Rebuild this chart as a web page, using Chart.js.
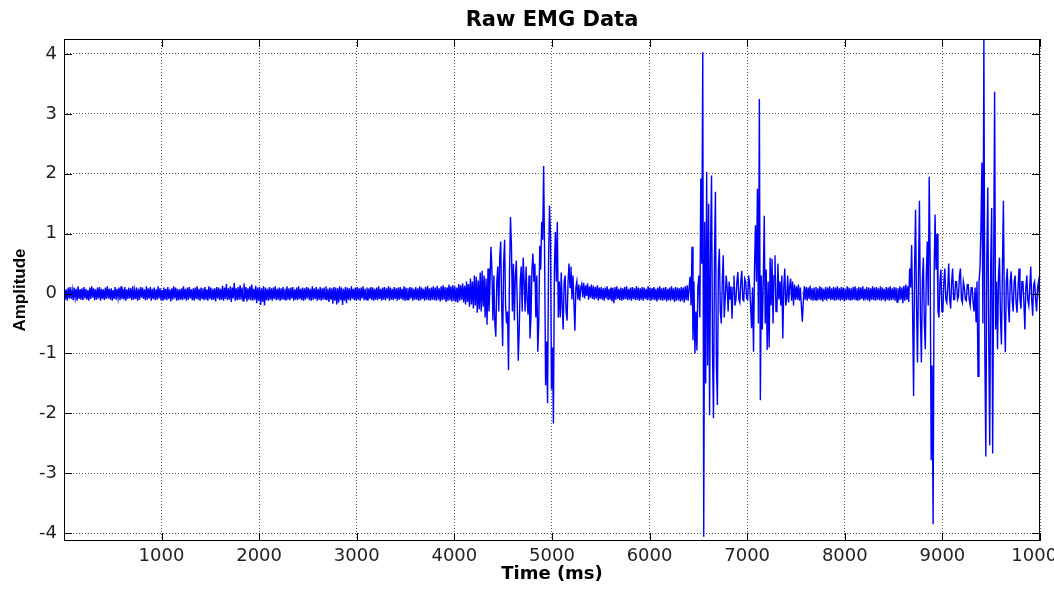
<!DOCTYPE html>
<html>
<head>
<meta charset="utf-8">
<title>Raw EMG Data</title>
<script src="https://cdn.jsdelivr.net/npm/chart.js@4.4.1/dist/chart.umd.min.js"></script>
<style>
  html, body { margin: 0; padding: 0; background: #ffffff; overflow: hidden; }
</style>
</head>
<body>
<canvas id="emg" width="1054" height="590"></canvas>
<script>
// samples every 10 ms
const sampleStepMs = 10;
const segmentStartMs = [5, 4005, 5305, 6405, 7505, 8665];

const restA = [
  .09,-.1,.07,-.12,.1,-.08,.11,-.09,.06,-.11,.1,-.07,.08,-.12,.12,-.09,.07,-.1,.09,-.11,
  .11,-.08,.08,-.1,.06,-.12,.1,-.09,.12,-.07,.09,-.11,.07,-.1,.1,-.08,.11,-.12,.08,-.09,
  .07,-.11,.1,-.09,.12,-.08,.08,-.1,.09,-.12,.06,-.09,.11,-.1,.08,-.07,.1,-.11,.12,-.09,
  .08,-.1,.11,-.12,.07,-.09,.1,-.08,.09,-.11,.12,-.1,.06,-.09,.1,-.12,.08,-.1,.11,-.07,
  .1,-.09,.07,-.11,.12,-.1,.09,-.08,.11,-.12,.08,-.09,.1,-.11,.07,-.1,.12,-.08,.09,-.11,
  .06,-.12,.1,-.1,.08,-.11,.11,-.09,.07,-.13,.09,-.1,.12,-.08,.1,-.12,.08,-.11,.07,-.1,
  .09,-.11,.12,-.09,.08,-.12,.1,-.1,.11,-.08,.07,-.11,.09,-.12,.1,-.09,.12,-.1,.08,-.12,
  .1,-.08,.09,-.11,.11,-.1,.07,-.12,.12,-.09,.1,-.11,.08,-.1,.09,-.13,.11,-.08,.1,-.11,
  .08,-.1,.13,-.12,.1,-.09,.16,-.11,.09,-.1,.12,-.14,.1,-.08,.18,-.12,.09,-.11,.11,-.1,
  .14,-.1,.1,-.12,.17,-.09,.11,-.13,.09,-.1,.12,-.11,.15,-.12,.08,-.1,.13,-.16,.1,-.12,
  .11,-.19,.09,-.14,.12,-.2,.1,-.11,.08,-.12,.11,-.1,.09,-.12,.1,-.09,.12,-.11,.08,-.1,
  .1,-.12,.09,-.1,.11,-.09,.08,-.12,.12,-.1,.09,-.11,.1,-.08,.11,-.12,.07,-.1,.1,-.11,
  .12,-.09,.08,-.11,.1,-.12,.09,-.1,.11,-.08,.1,-.11,.08,-.12,.12,-.1,.09,-.09,.11,-.12,
  .08,-.1,.11,-.12,.09,-.1,.1,-.09,.12,-.11,.08,-.14,.1,-.1,.09,-.17,.11,-.12,.1,-.18,
  .09,-.15,.12,-.11,.1,-.19,.08,-.12,.11,-.16,.1,-.1,.09,-.12,.12,-.09,.08,-.11,.1,-.12,
  .11,-.1,.09,-.12,.1,-.08,.12,-.11,.08,-.1,.1,-.12,.09,-.09,.11,-.11,.1,-.12,.08,-.1,
  .1,-.11,.12,-.09,.08,-.12,.1,-.1,.11,-.11,.09,-.08,.12,-.12,.1,-.1,.08,-.11,.11,-.09,
  .09,-.12,.1,-.1,.11,-.09,.08,-.11,.12,-.12,.1,-.1,.09,-.11,.11,-.08,.1,-.12,.08,-.1,
  .11,-.1,.09,-.12,.12,-.11,.1,-.09,.08,-.12,.11,-.1,.13,-.11,.09,-.12,.1,-.1,.12,-.11,
  .1,-.12,.13,-.1,.09,-.13,.12,-.11,.14,-.1,.11,-.14,.1,-.12,.15,-.11,.12,-.13,.14,-.12
];
const burstA = [
  .12,-.14,.1,-.15,.16,-.12,.14,-.1,.17,-.15,
  .13,-.18,.2,-.14,.16,-.22,.25,-.18,.2,-.25,
  .3,-.2,.28,-.32,.22,-.26,.35,-.3,.38,-.22,
  .3,-.4,.25,-.52,.42,-.3,.15,.78,.4,-.45,
  .3,-.5,-.72,.2,.45,-.3,.6,.87,-.2,-.88,
  .5,.9,-.2,-.5,-.3,-1.28,.3,1.28,.8,-.3,
  .5,-.45,.3,.55,-.2,-1.12,-.6,.2,.45,-.3,
  .6,.2,-.3,.45,-.1,-.35,.3,-.75,-.4,.4,
  .67,.2,.5,-.4,.3,-.97,-.5,.8,.4,1.2,
  .9,2.13,.6,-1.53,-.8,-1.83,.5,1.47,1.0,-1.6,
  -.9,-2.17,.4,1.03,.2,1.2,-.4,.2,-.4,.35,
  -.2,-.6,.2,.3,-.3,-.45,.2,.5,.1,.45,
  -.1,.3,-.15,-.62,.1,.2,-.1,.15,-.12,.1
];
const restB = [
  .16,-.06,.18,-.08,.14,-.04,.17,-.1,.12,-.07,.15,-.09,.13,-.1,.11,-.08,.14,-.12,.1,-.09,
  .11,-.1,.09,-.12,.1,-.08,.12,-.11,.08,-.1,.1,-.13,.09,-.16,.11,-.1,.12,-.09,.08,-.11,
  .1,-.12,.09,-.1,.11,-.09,.12,-.11,.08,-.1,.1,-.12,.11,-.09,.09,-.11,.12,-.1,.1,-.12,
  .09,-.1,.11,-.12,.1,-.09,.08,-.11,.12,-.1,.1,-.12,.09,-.1,.11,-.11,.08,-.13,.1,-.1,
  .12,-.11,.09,-.12,.1,-.1,.11,-.13,.08,-.11,.1,-.12,.12,-.1,.09,-.14,.11,-.12,.1,-.11,
  .09,-.13,.11,-.12,.1,-.15,.12,-.11,.14,-.12
];
const burstB = [
  .1,.28,-.2,.78,-.78,.2,-1.0,-.3,-.95,.1,
  .3,-.4,1.92,.5,4.03,-4.06,1.2,-1.5,2.03,-1.2,
  1.5,-2.03,.8,1.97,-1.0,-2.08,.6,1.7,-1.2,-1.86,
  .4,.75,-.3,-.5,.2,.64,-.4,-.1,.3,.1,
  -.3,.2,-.1,.12,-.42,.1,.3,-.2,-.1,.2,
  .36,-.1,-.15,.2,.38,-.1,-.12,.25,.2,-.08,
  -.1,.3,.15,-.2,-.58,.1,-.97,.4,1.14,.2,
  1.75,-.5,3.25,-1.78,.3,-.6,.2,1.3,-.5,.4,
  -.94,.2,-.9,.6,-.2,.58,-.5,.3,.64,-.3,
  -.3,.5,-.1,.2,-.2,.3,-.75,.1,.42,-.2,
  -.1,.3,-.15,.12,.25,-.12,.2,-.2,.15,-.1
];
const restC = [
  .12,-.1,.15,-.12,.1,-.2,-.47,-.15,.12,-.1,.11,-.12,.1,-.09,.13,-.11,.09,-.12,.1,-.1,
  .11,-.12,.09,-.1,.12,-.11,.1,-.13,.08,-.1,.11,-.12,.1,-.09,.12,-.11,.09,-.1,.11,-.12,
  .1,-.11,.12,-.1,.09,-.12,.11,-.1,.1,-.13,.08,-.11,.12,-.1,.1,-.12,.09,-.11,.11,-.1,
  .12,-.1,.09,-.12,.11,-.11,.1,-.09,.12,-.12,.08,-.1,.11,-.11,.1,-.13,.09,-.1,.12,-.11,
  .1,-.12,.11,-.1,.09,-.11,.12,-.12,.1,-.1,.08,-.13,.11,-.1,.1,-.12,.12,-.11,.09,-.1,
  .11,-.12,.1,-.14,.09,-.11,.12,-.1,.1,-.16,.13,-.12,.15,-.1,.12,-.14
];
const burstC = [
  .42,.1,.81,-.3,-1.71,.4,1.4,-.2,-1.15,.3,
  1.55,-.4,-1.15,.2,.6,-.5,-.93,.3,.87,-.2,
  1.95,.5,-2.78,-1.2,-3.85,.3,1.32,.4,1.0,-.3,
  -.4,.2,.4,-.3,-.3,.2,.42,-.1,-.15,.1,
  .5,-.1,-.25,.2,.42,-.1,-.1,.2,.2,-.1,
  -.05,.3,.42,-.1,-.15,.2,.1,-.1,-.12,.15,
  .15,-.1,-.2,.1,.1,-.15,-.3,.1,-.48,.2,
  -1.38,.2,.42,1.1,2.19,-.5,4.3,-1.0,-2.72,.6,
  1.77,-.8,-2.53,.5,1.43,-2.67,.3,3.37,-.6,.2,
  -.93,.3,.6,-.4,-.85,.4,1.55,-.3,-.98,.2,
  .42,-.2,-.48,.2,.37,-.1,-.3,.2,.3,-.15,
  -.32,.1,.42,-.1,-.25,.2,.2,-.15,-.6,.1,
  .3,-.1,-.2,.1,.45,-.1,-.37,.15,.2,-.1,
  -.3,.1,.2,-.1
];

const xTicks = [1000, 2000, 3000, 4000, 5000, 6000, 7000, 8000, 9000, 10000];
const yTicks = [-4, -3, -2, -1, 0, 1, 2, 3, 4];

const segments = [restA, burstA, restB, burstB, restC, burstC];
const points = [];
segments.forEach((seg, s) => {
  seg.forEach((v, i) => points.push({x: segmentStartMs[s] + i * sampleStepMs, y: v}));
});

// MATLAB-ish frame: black box, inward ticks, centred bold title
var matlabFrame = {
  id: 'matlabFrame',
  afterDraw: (chart) => {
    const {ctx, chartArea: a, scales} = chart;
    ctx.save();
    ctx.strokeStyle = '#000';
    ctx.lineWidth = 1;
    ctx.setLineDash([]);
    ctx.strokeRect(a.left + 0.5, a.top + 0.5, a.right - a.left - 1, a.bottom - a.top - 1);
    ctx.beginPath();
    xTicks.forEach(t => {
      const px = Math.round(scales.x.getPixelForValue(t)) + 0.5;
      ctx.moveTo(px, a.bottom); ctx.lineTo(px, a.bottom - 8);
      ctx.moveTo(px, a.top); ctx.lineTo(px, a.top + 8);
    });
    yTicks.forEach(t => {
      const py = Math.round(scales.y.getPixelForValue(t)) + 0.5;
      ctx.moveTo(a.left, py); ctx.lineTo(a.left + 8, py);
      ctx.moveTo(a.right, py); ctx.lineTo(a.right - 8, py);
    });
    ctx.stroke();
    ctx.fillStyle = '#000';
    ctx.font = 'bold 21px "DejaVu Sans"';
    ctx.textAlign = 'center';
    ctx.textBaseline = 'alphabetic';
    ctx.fillText('Raw EMG Data', (a.left + a.right) / 2, 26);
    ctx.restore();
  }
};

new Chart(document.getElementById('emg'), {
  type: 'line',
  data: {
    datasets: [{
      label: 'EMG',
      data: points,
      borderColor: '#0000ff',
      borderWidth: 1.4,
      pointRadius: 0,
      tension: 0,
      fill: false
    }]
  },
  options: {
    responsive: false,
    animation: false,
    layout: { padding: { top: 39, left: 0, right: 14, bottom: 0 } },
    plugins: {
      legend: { display: false },
      tooltip: { enabled: false },
      title: { display: false }
    },
    scales: {
      x: {
        type: 'linear',
        min: 1,
        max: 10000,
        afterBuildTicks: (scale) => { scale.ticks = xTicks.map(v => ({value: v})); },
        afterFit: (scale) => { scale.height = 49; scale.paddingRight = 0; scale.paddingLeft = 0; },
        grid: { color: '#555', lineWidth: 1, drawTicks: false },
        border: { display: false, dash: [1, 2] },
        ticks: {
          color: '#222',
          padding: 5,
          maxRotation: 0,
          autoSkip: false,
          font: { family: '"DejaVu Sans"', size: 18 },
          callback: (v) => String(v)
        },
        title: {
          display: true,
          text: 'Time (ms)',
          color: '#000',
          font: { family: '"DejaVu Sans"', size: 18, weight: 'bold' },
          padding: { top: 0, bottom: 5 }
        }
      },
      y: {
        min: -4.13,
        max: 4.25,
        afterBuildTicks: (scale) => { scale.ticks = yTicks.map(v => ({value: v})); },
        afterFit: (scale) => { scale.width = 64; },
        grid: { color: '#555', lineWidth: 1, drawTicks: false },
        border: { display: false, dash: [1, 2] },
        ticks: {
          color: '#222',
          padding: 7,
          autoSkip: false,
          font: { family: '"DejaVu Sans"', size: 18 },
          callback: (v) => String(v)
        },
        title: {
          display: true,
          text: 'Amplitude',
          color: '#000',
          font: { family: '"Liberation Sans"', size: 17, weight: 'bold' },
          padding: { top: 10, bottom: 0 }
        }
      }
    }
  },
  plugins: [matlabFrame]
});
</script>
</body>
</html>
